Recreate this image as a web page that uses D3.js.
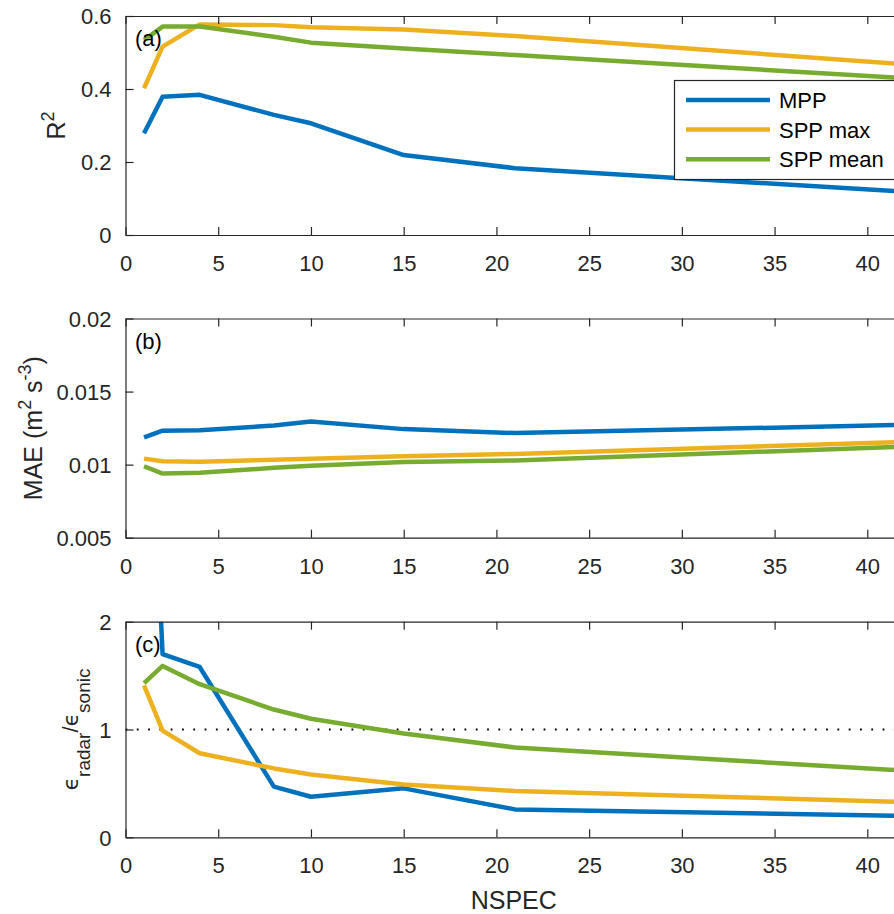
<!DOCTYPE html>
<html>
<head>
<meta charset="utf-8">
<script src="https://cdn.jsdelivr.net/npm/d3@7"></script>
<style>
  html, body { margin: 0; padding: 0; background: #fff; }
  svg { display: block; font-family: Arial, "Liberation Sans", Helvetica, sans-serif; }
</style>
</head>
<body>
<svg id="chart" width="894" height="914"></svg>
<script>
// ---------------- data ----------------
const nspec = [1, 2, 4, 8, 10, 15, 21, 42];
const seriesNames = ["MPP", "SPP max", "SPP mean"];

const r2MPP     = [0.279, 0.379, 0.384, 0.329, 0.306, 0.219, 0.183, 0.119];
const r2SPPmax  = [0.402, 0.516, 0.577, 0.575, 0.569, 0.563, 0.545, 0.468];
const r2SPPmean = [0.534, 0.571, 0.571, 0.543, 0.527, 0.511, 0.493, 0.430];

const maeMPP     = [0.01186, 0.01232, 0.01235, 0.01268, 0.01295, 0.01243, 0.01216, 0.01272];
const maeSPPmax  = [0.01041, 0.01023, 0.01020, 0.01033, 0.01041, 0.01057, 0.01073, 0.01155];
const maeSPPmean = [0.00989, 0.00939, 0.00945, 0.00978, 0.00993, 0.01018, 0.01029, 0.01123];

const ratioMPP     = [5.4, 1.70, 1.58, 0.47, 0.376, 0.454, 0.259, 0.198];
const ratioSPPmax  = [1.41, 0.99, 0.78, 0.639, 0.583, 0.49, 0.43, 0.327];
const ratioSPPmean = [1.43, 1.59, 1.42, 1.185, 1.10, 0.963, 0.833, 0.618];

const xTicks = [0, 5, 10, 15, 20, 25, 30, 35, 40];
const r2Ticks = [0, 0.2, 0.4, 0.6];
const r2TickLabels = ["0", "0.2", "0.4", "0.6"];
const maeTicks = [0.005, 0.01, 0.015, 0.02];
const maeTickLabels = ["0.005", "0.01", "0.015", "0.02"];
const ratioTicks = [0, 1, 2];
const ratioTickLabels = ["0", "1", "2"];
const panelLabels = ["(a)", "(b)", "(c)"];

// ---------------- layout ----------------
const colors = ["#0072BD", "#EDB120", "#77AC30"];
const axisColor = "#262626";
const svg = d3.select("#chart");
const left = 125.5, right = 902;
const x = d3.scaleLinear().domain([0, 41.87]).range([left, right]);

const panels = [
  { top: 16, bottom: 235, domain: [0, 0.6], ticks: r2Ticks, labels: r2TickLabels,
    series: [r2MPP, r2SPPmax, r2SPPmean] },
  { top: 318.5, bottom: 537.7, domain: [0.005, 0.02], ticks: maeTicks, labels: maeTickLabels,
    series: [maeMPP, maeSPPmax, maeSPPmean] },
  { top: 621.7, bottom: 837.3, domain: [0, 2], ticks: ratioTicks, labels: ratioTickLabels,
    series: [ratioMPP, ratioSPPmax, ratioSPPmean] }
];

const fontSize = 22;
const labelSize = 25;

panels.forEach((p, i) => {
  const y = d3.scaleLinear().domain(p.domain).range([p.bottom, p.top]);
  const g = svg.append("g");

  const clipId = "clip" + i;
  svg.append("clipPath").attr("id", clipId)
    .append("rect").attr("x", left).attr("y", p.top)
    .attr("width", right - left).attr("height", p.bottom - p.top);

  if (i === 2) {
    g.append("line")
      .attr("x1", x(0)).attr("x2", right)
      .attr("y1", y(1)).attr("y2", y(1))
      .attr("stroke", "#000").attr("stroke-width", 1.8)
      .attr("stroke-dasharray", "1.8 9.5")
      .attr("clip-path", `url(#${clipId})`);
  }

  const line = d3.line().x((d, k) => x(nspec[k])).y(d => y(d));
  p.series.forEach((s, k) => {
    g.append("path").datum(s)
      .attr("d", line)
      .attr("fill", "none")
      .attr("stroke", colors[k])
      .attr("stroke-width", 4.5)
      .attr("stroke-linejoin", "round")
      .attr("clip-path", `url(#${clipId})`);
  });

  const bottomAxis = d3.axisBottom(x).tickValues(xTicks).tickSizeInner(-8).tickSizeOuter(0)
    .tickFormat(d3.format("d"));
  const ga = g.append("g").attr("transform", `translate(0,${p.bottom})`).call(bottomAxis);
  const topAxis = d3.axisTop(x).tickValues(xTicks).tickSizeInner(-8).tickSizeOuter(0).tickFormat("");
  const gt = g.append("g").attr("transform", `translate(0,${p.top})`).call(topAxis);
  const leftAxis = d3.axisLeft(y).tickValues(p.ticks).tickSizeInner(-8).tickSizeOuter(0)
    .tickPadding(14).tickFormat((d, k) => p.labels[k]);
  const gl = g.append("g").attr("transform", `translate(${left},0)`).call(leftAxis);

  [ga, gt, gl].forEach(a => {
    a.select(".domain").attr("stroke", axisColor).attr("stroke-width", 1.2);
    a.selectAll(".tick line").attr("stroke", axisColor).attr("stroke-width", 1.2);
    a.selectAll(".tick text").attr("fill", axisColor).attr("font-size", fontSize)
      .attr("font-family", "Arial, 'Liberation Sans', sans-serif");
  });
  ga.selectAll(".tick text").attr("dy", null).attr("y", 36);
  gl.selectAll(".tick text").attr("dy", "0.36em");

  g.append("text").attr("x", 135).attr("y", p.top + 30)
    .attr("font-size", fontSize).attr("fill", "#000").text(panelLabels[i]);
});

// y labels
const yl1 = svg.append("text")
  .attr("transform", `translate(65,${(16 + 235) / 2}) rotate(-90)`)
  .attr("text-anchor", "middle").attr("font-size", labelSize).attr("fill", axisColor);
yl1.append("tspan").text("R");
yl1.append("tspan").attr("font-size", 18).attr("dy", -11).text("2");

const yl2 = svg.append("text")
  .attr("transform", `translate(42,${(318.5 + 537.7) / 2}) rotate(-90)`)
  .attr("text-anchor", "middle").attr("font-size", labelSize).attr("fill", axisColor);
yl2.append("tspan").text("MAE (m");
yl2.append("tspan").attr("font-size", 18).attr("dy", -11).text("2");
yl2.append("tspan").attr("dy", 11).text(" s");
yl2.append("tspan").attr("font-size", 18).attr("dy", -11).text("-3");
yl2.append("tspan").attr("dy", 11).text(")");

const yl3 = svg.append("text")
  .attr("transform", `translate(78,${(621.7 + 837.3) / 2}) rotate(-90)`)
  .attr("text-anchor", "middle").attr("font-size", 22).attr("fill", axisColor);
yl3.append("tspan").attr("font-family", "'DejaVu Sans', sans-serif").text("ϵ");
yl3.append("tspan").attr("font-size", 19).attr("dy", 12).text("radar");
yl3.append("tspan").attr("dy", -12).text("/");
yl3.append("tspan").attr("font-family", "'DejaVu Sans', sans-serif").text("ϵ");
yl3.append("tspan").attr("font-size", 19).attr("dy", 12).text("sonic");

// x label
svg.append("text").attr("x", (left + right) / 2).attr("y", 909)
  .attr("text-anchor", "middle").attr("font-size", labelSize).attr("fill", axisColor).text("NSPEC");

// legend
const leg = svg.append("g");
leg.append("rect").attr("x", 674.5).attr("y", 80.5).attr("width", 240).attr("height", 99)
  .attr("fill", "#fff").attr("stroke", axisColor).attr("stroke-width", 1.2);
seriesNames.forEach((name, k) => {
  const yy = 100 + k * 29.6;
  leg.append("line").attr("x1", 686).attr("x2", 770).attr("y1", yy).attr("y2", yy)
    .attr("stroke", colors[k]).attr("stroke-width", 4.5);
  leg.append("text").attr("x", 779).attr("y", yy + 8).attr("font-size", fontSize)
    .attr("fill", "#000").text(name);
});
</script>
</body>
</html>
